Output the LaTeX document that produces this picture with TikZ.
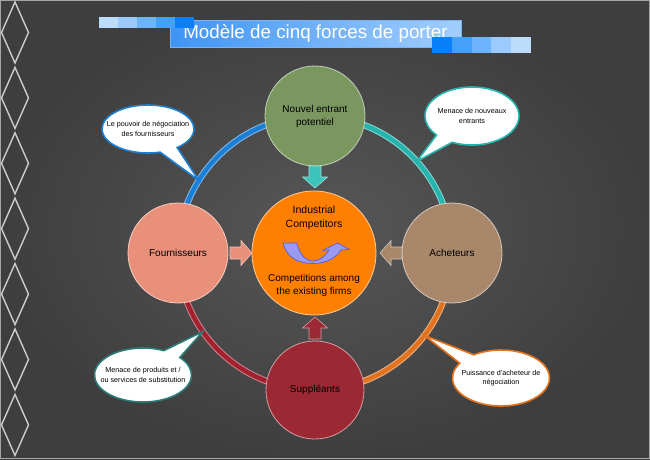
\documentclass[tikz,border=0pt]{standalone}
\usepackage{fontspec}
\setmainfont{Liberation Sans}
\usetikzlibrary{shapes.callouts}

\definecolor{bginner}{HTML}{575757}
\definecolor{bgouter}{HTML}{3E3E3E}
\definecolor{ringteal}{HTML}{26B5AE}
\definecolor{ringblue}{HTML}{1C7FD6}
\definecolor{ringred}{HTML}{A3202F}
\definecolor{ringorange}{HTML}{E2731E}
\definecolor{fgreen}{HTML}{7A9760}
\definecolor{fsalmon}{HTML}{E8907A}
\definecolor{ftan}{HTML}{A8876A}
\definecolor{fred}{HTML}{9B2833}
\definecolor{forange}{HTML}{FF8000}
\definecolor{arrteal}{HTML}{3CC4BC}
\definecolor{curlfill}{HTML}{9A9AF5}
\definecolor{curlline}{HTML}{5A5AD8}
\definecolor{bubbleteal}{HTML}{2A7C78}
\definecolor{sq1}{HTML}{BCDCFC}
\definecolor{sq2}{HTML}{9ACBFC}
\definecolor{sq3}{HTML}{6CB4FB}
\definecolor{sq4}{HTML}{45A0F9}
\definecolor{sq5}{HTML}{0A80F8}
\definecolor{titleleft}{HTML}{3E94F4}
\definecolor{titleright}{HTML}{A2CEFD}

\begin{document}
\begin{tikzpicture}[x=1pt,y=1pt,
  force/.style={circle, draw=#1!45!white, fill=#1, minimum size=100pt, inner sep=0pt,
    line width=0.8pt, align=center, font=\fontsize{10}{13}\selectfont},
  bubble/.style={ellipse callout, draw=#1, fill=white, line width=1.6pt,
    inner xsep=-11pt, inner ysep=0pt,
    callout pointer arc=24, align=center, font=\fontsize{7.2}{9.4}\selectfont},
  ringline/.style={line width=4.5pt},
  blockarr/.pic={\path[pic actions] (0,-6) -- (11,-6) -- (11,-12.5) -- (22,0)
    -- (11,12.5) -- (11,6) -- (0,6) -- cycle;}
  ]
	% background
	\useasboundingbox (0,0) rectangle (650,459);
	\fill[inner color=bginner, outer color=bgouter] (0,0) rectangle (650,459);
	\draw[gray!70, line width=1pt] (0.5,0.5) rectangle (649.5,458.5);

	% diamonds on the left
	\foreach \i in {0,...,6}
	  \draw[gray!40, line width=1.4pt]
	    (15,{426.5-65.4*\i+30.5}) -- (28.5,{426.5-65.4*\i}) -- (15,{426.5-65.4*\i-30.5})
	    -- (1.5,{426.5-65.4*\i}) -- cycle;

	% title
	\node[minimum width=291pt, minimum height=26.3pt, inner sep=0pt,
	  left color=titleleft, right color=titleright,
	  draw=titleleft!70!white, line width=0.6pt, text=white,
	  font=\fontsize{18.8}{22}\selectfont] (title) at (315.5,425.3) {Modèle de cinq forces de porter};
	\foreach \i/\c in {0/sq1,1/sq2,2/sq3,3/sq4,4/sq5}
	  \fill[\c] ({99+19*\i},430.7) rectangle ++(19,11.6);
	\foreach \i/\c in {0/sq5,1/sq4,2/sq3,3/sq2,4/sq1}
	  \fill[\c] ({432+19.8*\i},406.3) rectangle ++(19.8,15.4);

	% ring
	\coordinate (ringc) at (315,206);
	\foreach \a/\c in {0/ringteal,90/ringblue,180/ringred,270/ringorange} {
	  \draw[line width=6.5pt, \c!55!white] ([shift={(\a:137)}]ringc) arc (\a:\a+90:137);
	  \draw[ringline, \c] ([shift={(\a:137)}]ringc) arc (\a:\a+90:137);
	}

	% forces
	\node[force=fgreen] (nouvel) at (315,343) {Nouvel entrant\\potentiel};
	\node[force=fsalmon] (fourn) at (178,206) {Fournisseurs};
	\node[force=ftan] (achet) at (452,206) {Acheteurs};
	\node[force=fred, minimum size=98pt] (suppl) at (315,69) {Suppléants};
	\node[circle, fill=forange, draw=orange!40!white, line width=0.8pt,
	  minimum size=124pt] (indus) at (314,206) {};
	\node[font=\fontsize{10.5}{13.5}\selectfont, align=center] (indtitle) at (314,241) {Industrial\\Competitors};
	\node[font=\fontsize{10}{13}\selectfont, align=center] (indtext) at (314,174) {Competitions among\\the existing firms};

	% curved arrow in the middle
	\filldraw[fill=curlfill, draw=curlline, line width=0.7pt]
	  (283,216) .. controls (287,200) and (300,195.5) .. (313,195.5)
	  .. controls (327,195.5) and (337,202) .. (341,209) -- (349,209.5) -- (337.7,216)
	  -- (322.7,208.7) -- (329,209) .. controls (324,201) and (318,198) .. (313,198)
	  .. controls (305,198) and (299,206) .. (296.7,216) -- cycle;

	% block arrows
	\pic[fill=arrteal, draw=arrteal!50!white, line width=0.6pt, rotate=-90] at (315,293) {blockarr};
	\pic[fill=fsalmon, draw=fsalmon!50!white, line width=0.6pt] at (230,206) {blockarr};
	\pic[fill=ftan, draw=ftan!50!white, line width=0.6pt, rotate=180] at (402,206) {blockarr};
	\pic[fill=fred, draw=fred!45!white, line width=0.6pt, rotate=90] at (315,120) {blockarr};

	% callouts
	\coordinate (ptl) at ([shift={(148:137)}]ringc);
	\coordinate (ptr) at ([shift={(42:137)}]ringc);
	\coordinate (pbl) at ([shift={(215:137)}]ringc);
	\coordinate (pbr) at ([shift={(-37:137)}]ringc);
	\node[bubble=ringblue, minimum width=92pt, minimum height=48pt,
	  callout absolute pointer={(ptl)}] (btl) at (148,330) {Le pouvoir de négociation\\des fournisseurs};
	\node[bubble=ringteal, minimum width=94pt, minimum height=58pt,
	  callout absolute pointer={(ptr)}] (btr) at (472,343) {Menace de nouveaux\\entrants};
	\node[bubble=bubbleteal, minimum width=97pt, minimum height=54pt,
	  callout absolute pointer={(pbl)}] (bbl) at (143,84) {Menace de produits et /\\ou services de substitution};
	\node[bubble=ringorange, minimum width=97pt, minimum height=56pt,
	  callout absolute pointer={(pbr)}] (bbr) at (501,81) {Puissance d'acheteur de\\négociation};
\end{tikzpicture}
\end{document}
